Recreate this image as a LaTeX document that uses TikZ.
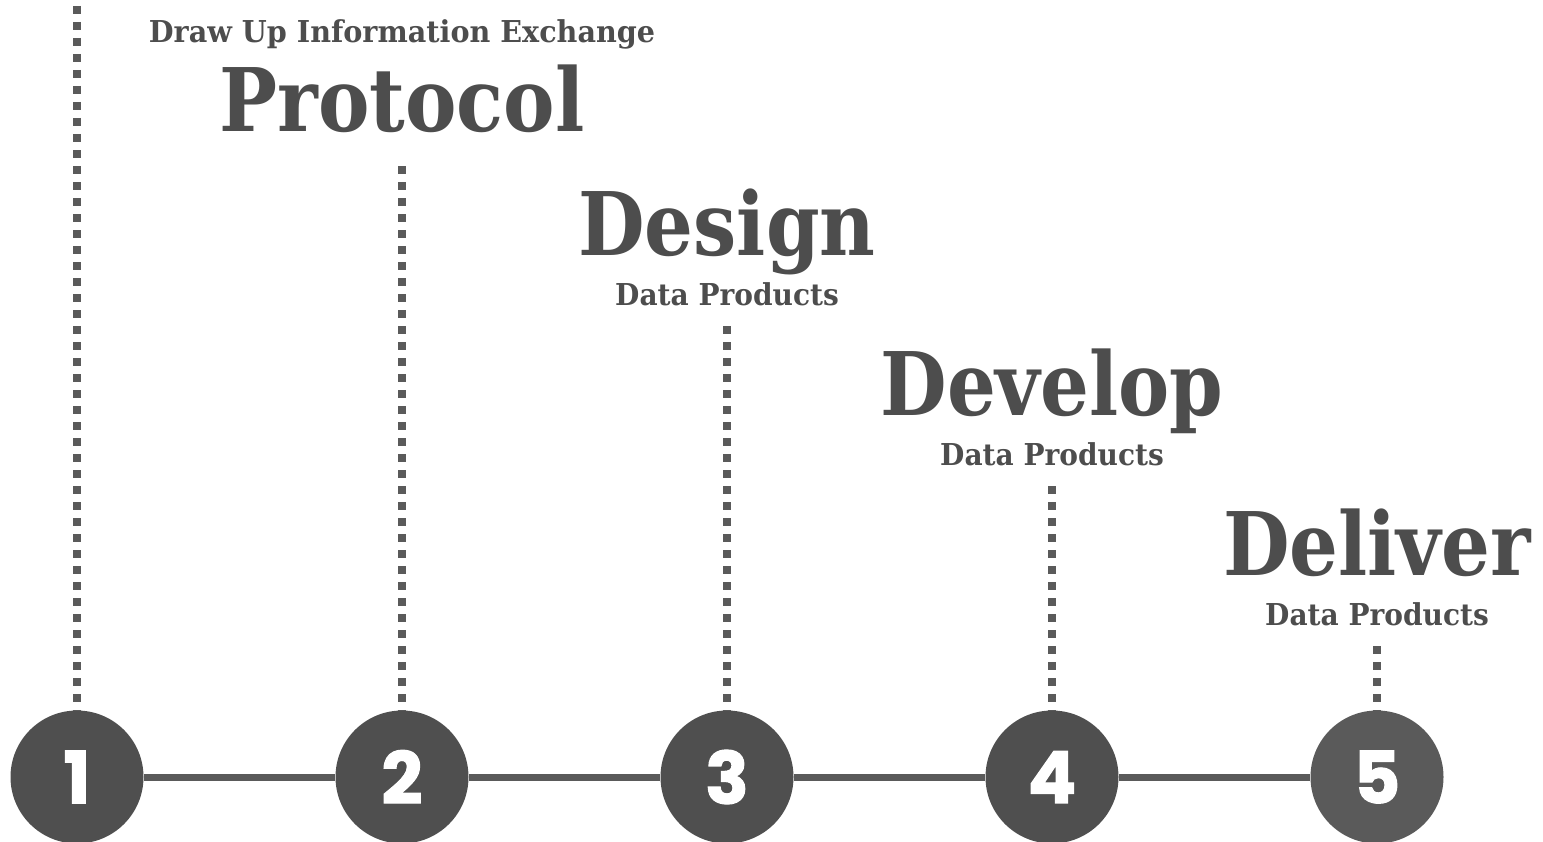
\documentclass[tikz,border=0pt]{standalone}
\usepackage{fontspec}
\usepackage{graphicx}
\newfontfamily\ttlfont{DejaVu Serif}
\newfontfamily\numfont{Poppins}[BoldFeatures={FakeBold=1.6}]
\definecolor{ink}{HTML}{4D4D4D}
\definecolor{circ}{HTML}{4F4F4F}
\definecolor{circl}{HTML}{5A5A5A}
\definecolor{linec}{HTML}{5A5A5A}
\newcommand\hsq[2]{\scalebox{#1}[1]{#2}}
\tikzset{
  ttlstyle/.style={font=\ttlfont\bfseries\fontsize{65.8}{70}\selectfont, text=ink, inner sep=0pt, anchor=base},
  substyle/.style={font=\ttlfont\bfseries\fontsize{22.6}{26}\selectfont, text=ink, inner sep=0pt, anchor=base},
  stepcircle/.style={circle, fill=circ, minimum size=99.75pt, inner sep=0pt, text=white, font=\numfont\bfseries\fontsize{54}{54}\selectfont},
  dots/.style={draw=linec, line width=6pt, dash pattern=on 6pt off 6pt, line cap=butt},
  tline/.style={draw=linec, line width=5.25pt}
}
\begin{document}
\begin{tikzpicture}[x=0.75pt, y=-0.75pt]
\useasboundingbox (0,0) rectangle (1543,842);
% circles
\node[stepcircle] (c1) at (77,777) {1};
\node[stepcircle] (c2) at (402,777) {2};
\node[stepcircle] (c3) at (727,777) {3};
\node[stepcircle] (c4) at (1052,777) {4};
\node[stepcircle, fill=circl] (c5) at (1377,777) {5};
% timeline
\draw[tline] (c1) -- (c2);
\draw[tline] (c2) -- (c3);
\draw[tline] (c3) -- (c4);
\draw[tline] (c4) -- (c5);
% dotted leaders
\coordinate (t1) at (77,6);
\coordinate (t2) at (402,166);
\coordinate (t3) at (727,326);
\coordinate (t4) at (1052,486);
\coordinate (t5) at (1377,646);
\draw[dots] (t1) -- (c1.north);
\draw[dots] (t2) -- (c2.north);
\draw[dots] (t3) -- (c3.north);
\draw[dots] (t4) -- (c4.north);
\draw[dots] (t5) -- (c5.north);
% labels
\node[substyle] (s2) at (402,43) {\hsq{0.95}{Draw Up Information Exchange}};
\node[ttlstyle] (h2) at (402,132) {\hsq{0.88}{Protocol}};
\node[ttlstyle] (h3) at (727,255) {\hsq{0.875}{Design}};
\node[substyle] (s3) at (727,305) {\hsq{0.93}{Data Products}};
\node[ttlstyle] (h4) at (1052,415) {\hsq{0.875}{Develop}};
\node[substyle] (s4) at (1052,465) {\hsq{0.93}{Data Products}};
\node[ttlstyle] (h5) at (1377,575) {\hsq{0.875}{Deliver}};
\node[substyle] (s5) at (1377,625) {\hsq{0.93}{Data Products}};
\end{tikzpicture}
\end{document}
